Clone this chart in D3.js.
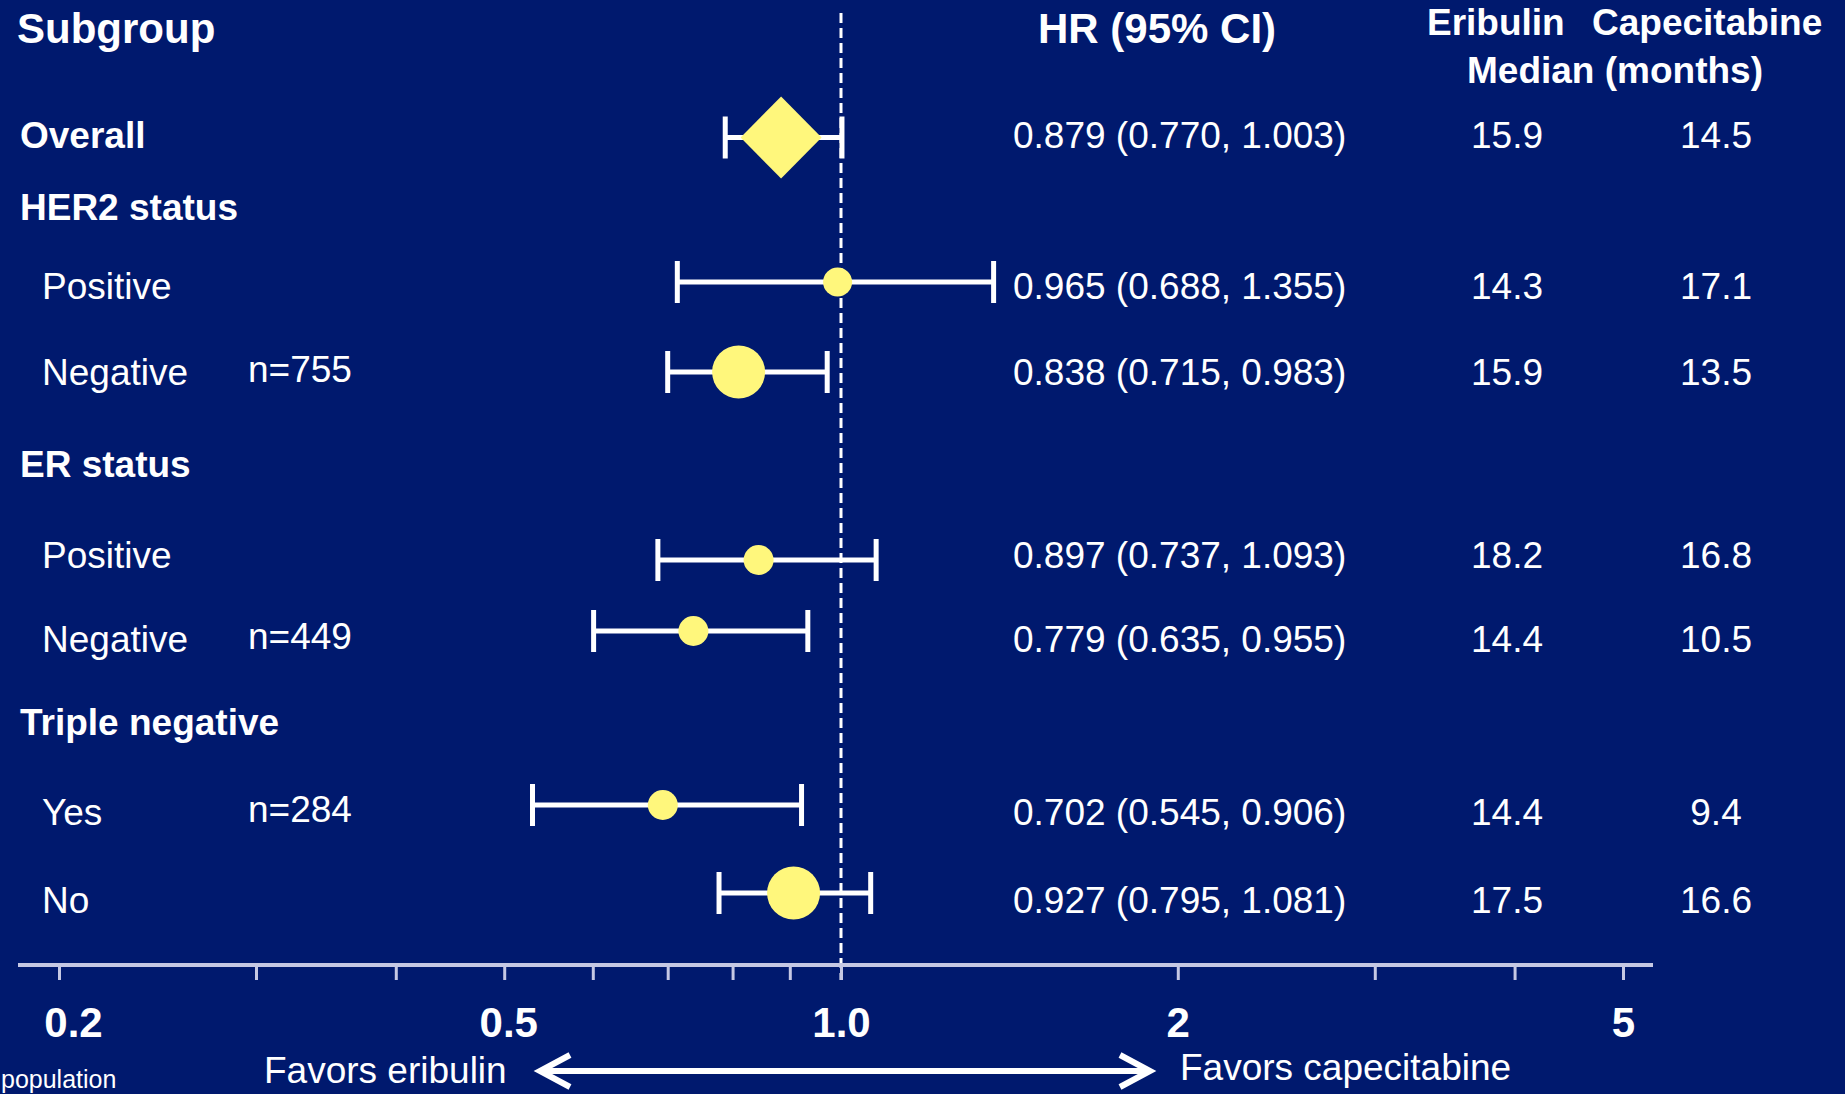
<!DOCTYPE html>
<html>
<head>
<meta charset="utf-8">
<script src="https://cdn.jsdelivr.net/npm/d3@7"></script>
<style>
  html, body { margin: 0; padding: 0; background: #00196e; }
  svg { display: block; }
  text { font-family: "Liberation Sans", Arial, Helvetica, sans-serif; fill: #ffffff; }
</style>
</head>
<body>
<svg id="chart" width="1845" height="1094"></svg>
<script>
// ---------------- DATA ----------------
const rowLabels = ["Overall", "HER2 status", "Positive", "Negative", "ER status", "Positive", "Negative", "Triple negative", "Yes", "No"];
const rowKinds  = ["overall", "header", "sub", "sub", "header", "sub", "sub", "header", "sub", "sub"];
const nLabels   = ["", "", "", "n=755", "", "", "n=449", "", "n=284", ""];
const hrLabels  = ["0.879 (0.770, 1.003)", "", "0.965 (0.688, 1.355)", "0.838 (0.715, 0.983)", "",
                   "0.897 (0.737, 1.093)", "0.779 (0.635, 0.955)", "", "0.702 (0.545, 0.906)", "0.927 (0.795, 1.081)"];
const eribulinMedian     = ["15.9", "", "14.3", "15.9", "", "18.2", "14.4", "", "14.4", "17.5"];
const capecitabineMedian = ["14.5", "", "17.1", "13.5", "", "16.8", "10.5", "", "9.4", "16.6"];
// plotted marks (hazard ratio scale)
const hrPoint = [0.884, null, 0.993, 0.810, null, 0.844, 0.738, null, 0.693, 0.907];
const ciLow   = [0.788, null, 0.714, 0.700, null, 0.686, 0.601, null, 0.530, 0.778];
const ciHigh  = [1.002, null, 1.369, 0.972, null, 1.075, 0.934, null, 0.922, 1.063];
const tickValues = [0.2, 0.3, 0.4, 0.5, 0.6, 0.7, 0.8, 0.9, 1, 2, 3, 4, 5];
const labeledTicks = [0.2, 0.5, 1, 2, 5];
const tickLabelText = ["0.2", "0.5", "1.0", "2", "5"];
const columnHeaders = ["Subgroup", "HR (95% CI)", "Eribulin", "Capecitabine", "Median (months)"];
const favorLeft = "Favors eribulin";
const favorRight = "Favors capecitabine";
const footnote = "population";

// ---------------- LAYOUT ----------------
const ROW_BASELINE = [148, 220, 299, 385, 477, 568, 652, 735, 825, 913];
const MARK_Y       = [137.5, null, 282, 372, null, 560, 631, null, 805, 893];
const DOT_R        = [null, null, 14.5, 26.5, null, 15, 15, null, 15, 26.5];
const AXIS_Y = 965, AXIS_X0 = 18, AXIS_X1 = 1653;
const NAVY = "#00196e", YELLOW = "#fff77c", LINE = "#ffffff", AXISC = "#c5c8e4";
const FS = 37;

const svg = d3.select("#chart");
svg.append("rect").attr("width", 1845).attr("height", 1094).attr("fill", NAVY);

const x = d3.scaleLog().domain([0.2, 5]).range([59, 1623]);

// headers
svg.append("text").attr("x", 17).attr("y", 43).attr("font-size", 42).attr("font-weight", "bold").text(columnHeaders[0]);
svg.append("text").attr("x", 1038).attr("y", 43).attr("font-size", 42).attr("font-weight", "bold").text(columnHeaders[1]);
svg.append("text").attr("x", 1427).attr("y", 35).attr("font-size", FS).attr("font-weight", "bold").text(columnHeaders[2]);
svg.append("text").attr("x", 1592).attr("y", 35).attr("font-size", FS).attr("font-weight", "bold").text(columnHeaders[3]);
svg.append("text").attr("x", 1467).attr("y", 83).attr("font-size", FS).attr("font-weight", "bold").text(columnHeaders[4]);

const rows = rowLabels.map((label, i) => ({
  i, label, kind: rowKinds[i], n: nLabels[i], hr: hrLabels[i],
  eri: eribulinMedian[i], cap: capecitabineMedian[i],
  pt: hrPoint[i], lo: ciLow[i], hi: ciHigh[i]
}));

// row labels
svg.append("g").selectAll("text").data(rows).join("text")
  .attr("x", d => d.kind === "sub" ? 42 : 20)
  .attr("y", d => ROW_BASELINE[d.i])
  .attr("font-size", FS)
  .attr("font-weight", d => d.kind === "sub" ? "normal" : "bold")
  .text(d => d.label);

// n labels
svg.append("g").selectAll("text").data(rows.filter(d => d.n)).join("text")
  .attr("x", 248).attr("y", d => ROW_BASELINE[d.i] - 3)
  .attr("font-size", FS).text(d => d.n);

// HR text
svg.append("g").selectAll("text").data(rows.filter(d => d.hr)).join("text")
  .attr("x", 1013).attr("y", d => ROW_BASELINE[d.i])
  .attr("font-size", FS).text(d => d.hr);

// medians
svg.append("g").selectAll("text").data(rows.filter(d => d.eri)).join("text")
  .attr("x", 1507).attr("y", d => ROW_BASELINE[d.i]).attr("text-anchor", "middle")
  .attr("font-size", FS).text(d => d.eri);
svg.append("g").selectAll("text").data(rows.filter(d => d.cap)).join("text")
  .attr("x", 1716).attr("y", d => ROW_BASELINE[d.i]).attr("text-anchor", "middle")
  .attr("font-size", FS).text(d => d.cap);

const plotted = rows.filter(d => d.pt != null);
const CAP = 21;

// CI lines
const ci = svg.append("g").attr("stroke", LINE).attr("stroke-width", 5);
ci.selectAll("line.ci").data(plotted).join("line").attr("class", "ci")
  .attr("x1", d => x(d.lo)).attr("x2", d => x(d.hi))
  .attr("y1", d => MARK_Y[d.i]).attr("y2", d => MARK_Y[d.i]);
ci.selectAll("line.lc").data(plotted).join("line").attr("class", "lc")
  .attr("x1", d => x(d.lo)).attr("x2", d => x(d.lo))
  .attr("y1", d => MARK_Y[d.i] - CAP).attr("y2", d => MARK_Y[d.i] + CAP);
ci.selectAll("line.hc").data(plotted).join("line").attr("class", "hc")
  .attr("x1", d => x(d.hi)).attr("x2", d => x(d.hi))
  .attr("y1", d => MARK_Y[d.i] - CAP).attr("y2", d => MARK_Y[d.i] + CAP);

// reference line at HR = 1
svg.append("line")
  .attr("x1", x(1)).attr("x2", x(1)).attr("y1", 13).attr("y2", 980)
  .attr("stroke", LINE).attr("stroke-width", 3).attr("stroke-dasharray", "10,5");

// overall diamond
svg.append("g").selectAll("path").data(plotted.filter(d => d.kind === "overall")).join("path")
  .attr("fill", YELLOW)
  .attr("d", d => {
    const cx = x(d.pt), cy = MARK_Y[d.i];
    return `M${cx - 40.5},${cy}L${cx},${cy - 41}L${cx + 40.5},${cy}L${cx},${cy + 41}Z`;
  });
// subgroup dots
svg.append("g").selectAll("circle").data(plotted.filter(d => d.kind !== "overall")).join("circle")
  .attr("cx", d => x(d.pt)).attr("cy", d => MARK_Y[d.i]).attr("r", d => DOT_R[d.i])
  .attr("fill", YELLOW);

// axis
svg.append("line").attr("x1", AXIS_X0).attr("x2", AXIS_X1).attr("y1", AXIS_Y).attr("y2", AXIS_Y)
  .attr("stroke", AXISC).attr("stroke-width", 4);
const axis = d3.axisBottom(x).tickValues(tickValues).tickSize(15).tickPadding(27)
  .tickFormat(v => { const k = labeledTicks.indexOf(v); return k >= 0 ? tickLabelText[k] : ""; });
const ag = svg.append("g").attr("transform", `translate(0,${AXIS_Y})`).call(axis);
ag.select(".domain").remove();
ag.selectAll(".tick line").attr("stroke", AXISC).attr("stroke-width", 3);
ag.selectAll(".tick text").attr("font-size", 42).attr("font-weight", "bold")
  .attr("font-family", "Liberation Sans, Arial, sans-serif").attr("fill", "#ffffff")
  .attr("dx", v => v === 0.2 ? 14 : (v === 0.5 ? 4 : 0));

// favors arrow
const AY = 1071, AX0 = 540, AX1 = 1150;
const ar = svg.append("g").attr("stroke", LINE).attr("stroke-width", 6).attr("fill", "none")
  .attr("stroke-linejoin", "miter");
ar.append("line").attr("x1", AX0 + 2).attr("x2", AX1 - 2).attr("y1", AY).attr("y2", AY);
ar.append("path").attr("d", `M${AX0 + 30},${AY - 16}L${AX0},${AY}L${AX0 + 30},${AY + 16}`);
ar.append("path").attr("d", `M${AX1 - 30},${AY - 16}L${AX1},${AY}L${AX1 - 30},${AY + 16}`);
svg.append("text").attr("x", 264).attr("y", 1083).attr("font-size", FS).text(favorLeft);
svg.append("text").attr("x", 1180).attr("y", 1080).attr("font-size", FS).text(favorRight);

// footnote at the bottom-left edge
svg.append("text").attr("x", 1).attr("y", 1088)
  .attr("font-size", 25).text(footnote);
</script>
</body>
</html>
